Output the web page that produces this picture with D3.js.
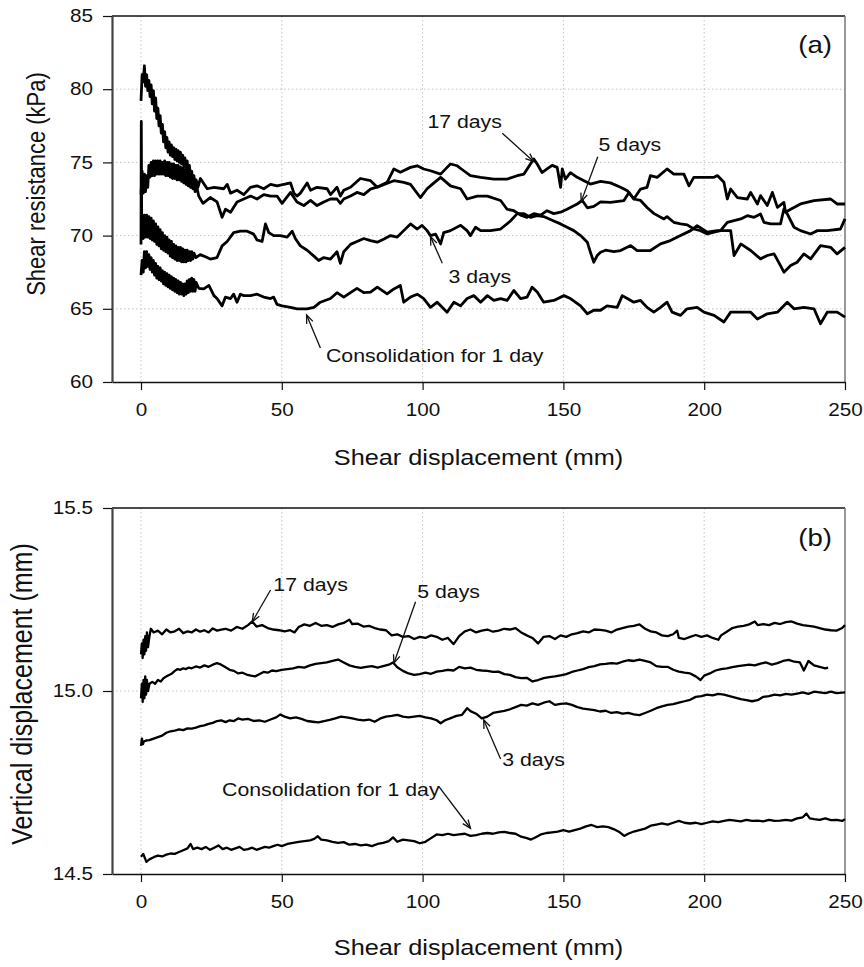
<!DOCTYPE html>
<html>
<head>
<meta charset="utf-8">
<script src="https://cdn.jsdelivr.net/npm/d3@7"></script>
<style>
  body { margin: 0; background: #fff; }
  text { font-family: "Liberation Sans", Arial, sans-serif; fill: #111; }
</style>
</head>
<body>
<svg width="864" height="967"></svg>
<script>
// ---- data ----
const xTicks = [0, 50, 100, 150, 200, 250];
const resistTicks = [60, 65, 70, 75, 80, 85];
const vertTicks = [14.5, 15.0, 15.5];

// (a) shear resistance, kPa vs shear displacement, mm
const resist17 = [[0,79.2],[0.4,81.0],[0.8,80.5],[1.2,81.6],[1.6,80.2],[2.0,81.0],[2.4,79.9],[2.8,80.6],[3.2,79.5],[3.6,80.3],[4.0,79.0],[4.4,79.9],[4.8,78.5],[5.2,79.4],[5.6,78.0],[6.0,78.7],[6.4,77.5],[6.8,78.2],[7.2,77.0],[7.6,77.6],[8.0,76.4],[8.4,77.1],[8.8,76.0],[9.2,76.7],[9.6,75.7],[10.0,76.4],[10.4,75.5],[10.8,76.2],[11.2,75.4],[11.6,76.0],[12.0,75.2],[12.4,75.9],[12.8,75.1],[13.2,75.8],[13.6,75.0],[14.0,75.7],[14.4,74.9],[14.8,75.5],[15.2,74.7],[15.6,75.3],[16.0,74.4],[16.4,75.1],[16.8,74.1],[17.2,74.8],[17.6,73.8],[18.0,74.4],[18.4,73.5],[18.8,74.1],[19.2,73.2],[19.6,73.8],[20.2,73.3],
  [21.1,73.9],[23.5,73.2],[26,73.3],[29.4,73.2],[30.6,73.5],[31.8,72.9],[34.1,73.1],[36.5,72.8],[38.9,73.3],[41.2,73.4],[43.6,73.2],[46,73.5],[48.3,73.4],[50.7,73.5],[53.1,73.6],[54.3,72.9],[55.4,72.7],[56.6,72.9],[59,73.6],[60.2,73.1],[62.5,73.3],[66.1,73.2],[67.3,72.8],[69.6,73.3],[70.8,72.7],[72,73.1],[74.4,73.3],[77.9,73.9],[81.5,73.75],[83.9,73.3],[87.4,73.64],[89.8,74.55],[92.1,74.32],[95.7,74.66],[98.1,74.77],[100.4,74.55],[102.8,74.43],[106.4,74.2],[108.7,74.66],[109.9,74.89],[112.3,74.77],[114.6,74.43],[117,74.09],[120.6,73.98],[125.3,73.86],[130,73.86],[133.6,74.09],[136,74.2],[138.3,74.89],[139.5,75.23],[140.7,74.89],[142.4,74.3],[144.2,74.55],[146,74.8],[147.8,74.66],[149,73.3],[149.6,74.55],[150.7,73.86],[152.5,74.3],[154.9,73.98],[157.3,73.75],[159.6,73.52],[163.2,73.7],[166.7,73.6],[170.3,73.3],[172.7,73.07],[175,72.5],[177.4,72.4],[179.8,71.9],[182.2,71.5],[185.7,71.14],[186.8,71.3],[189.2,70.91],[191.6,70.8],[194,70.73],[196.3,70.45],[198.7,70.34],[201.1,70.11],[203.5,70.23],[205.8,70.34],[208.2,70.91],[210.6,71.02],[213,71.14],[215.3,71.36],[217.7,71.25],[220,71.48],[221.2,70.91],[223.6,70.8],[227.1,70.8],[228.3,71.82],[229.5,71.48],[231.9,70.57],[234.2,70.34],[237.8,70.11],[240.2,70.34],[243.7,70.34],[248.4,70.45],[250,71.14]];

const resist5 = [[0,72.8],[0.4,74.4],[0.8,72.9],[1.2,74.2],[1.6,73.0],[2.0,74.1],[2.4,73.3],[2.8,74.8],[3.2,74.0],[3.6,75.0],[4.0,74.1],[4.4,75.1],[4.8,74.1],[5.2,75.1],[5.6,74.2],[6.0,75.1],[6.4,74.2],[6.8,75.1],[7.2,74.2],[7.6,75.0],[8.0,74.2],[8.4,75.1],[8.8,74.1],[9.2,75.0],[9.6,74.1],[10.0,75.0],[10.4,74.0],[10.8,74.9],[11.2,73.9],[11.6,74.9],[12.0,73.9],[12.4,74.8],[12.8,73.8],[13.2,74.8],[13.6,73.8],[14.0,74.7],[14.4,73.7],[14.8,74.6],[15.2,73.6],[15.6,74.5],[16.0,73.5],[16.4,74.4],[16.8,73.4],[17.2,74.3],[17.6,73.3],[18.0,74.1],[18.4,73.2],[18.8,73.9],[19.2,73.0],[19.6,73.5],[20.5,72.7],
  [22,72.2],[24.6,72.6],[27,72.3],[28.8,71.25],[30,71.8],[31.8,71.6],[34.1,72.3],[36.5,72.5],[38.9,72.7],[41.2,72.5],[43.6,72.8],[46,72.7],[48.3,72.7],[50.1,72.2],[53.1,72.95],[55.4,72.3],[57.8,72.05],[60.2,72.4],[62.5,72.05],[64.9,72.3],[67.3,72.5],[69.6,72.5],[70.8,72.2],[72,72.5],[74.4,72.7],[76.7,72.95],[79.1,72.8],[81.5,73.18],[85,73.4],[89.8,73.75],[93.3,73.64],[95.7,73.5],[99.2,72.6],[101.6,73.2],[103.4,73.5],[106.4,73.98],[109.9,73.4],[113.5,73.2],[115.8,72.5],[119.4,72.7],[123,72.7],[127.7,72.4],[130,71.8],[132.4,71.7],[134.8,71.4],[137.1,71.25],[139.5,71.5],[141.9,71.4],[144.2,71.7],[146.6,71.5],[149,71.6],[151.3,71.8],[154.9,72.16],[156.7,72.4],[158.5,71.9],[160.8,72.0],[163.2,72.3],[166.7,72.27],[171.5,72.39],[173.3,72.95],[175,72.5],[177.4,73.18],[179.7,73.3],[180.9,74.1],[183.3,73.98],[186.8,74.55],[189.2,74.2],[192.8,74.2],[194.6,73.4],[196.3,73.98],[199.9,73.98],[203.5,73.98],[204.7,74.1],[207,73.64],[208.2,72.5],[209.4,73.18],[211.8,72.6],[215.3,72.5],[216.5,72.95],[218.9,72.16],[220,72.73],[222.4,72.05],[224.2,72.95],[226,71.93],[228.3,72.27],[228.9,71.6],[230.7,71.8],[234.2,72.16],[239,72.39],[244.9,72.5],[247.2,72.16],[250,72.16]];

const resist3 = [[0,69.4],[0.1,77.8],[0.25,70.2],[0.4,71.3],[0.8,69.8],[1.2,71.4],[1.6,69.9],[2.0,71.4],[2.4,69.9],[2.8,71.3],[3.2,69.8],[3.6,71.2],[4.0,69.7],[4.4,71.0],[4.8,69.6],[5.2,70.8],[5.6,69.4],[6.0,70.6],[6.4,69.3],[6.8,70.4],[7.2,69.1],[7.6,70.2],[8.0,69.0],[8.4,70.0],[8.8,68.9],[9.2,69.9],[9.6,68.8],[10.0,69.7],[10.4,68.6],[10.8,69.6],[11.2,68.5],[11.6,69.4],[12.0,68.4],[12.4,69.3],[12.8,68.3],[13.2,69.2],[13.6,68.3],[14.0,69.2],[14.4,68.2],[14.8,69.1],[15.2,68.2],[15.6,69.0],[16.0,68.2],[16.4,69.0],[16.8,68.3],[17.2,68.9],[17.6,68.3],[18.0,68.9],[18.4,68.4],[18.8,68.8],[19.5,68.5],[21,68.7],
  [22.3,68.6],[24.6,68.4],[27,68.5],[28.8,69.3],[30.6,69.6],[32.9,70.2],[35.3,70.3],[37.7,70.3],[40,70.1],[41.2,69.7],[43,69.6],[44.2,70.8],[45.4,70.2],[47.1,70.0],[49.5,70.0],[51.9,69.9],[53.7,70.3],[54.8,69.8],[56.6,69.3],[59,69.0],[61.4,68.6],[63.1,68.3],[64.9,68.5],[67.3,68.4],[69.6,68.9],[70.8,68.1],[72,68.9],[74.4,69.4],[76.7,69.6],[79.1,69.8],[81.5,69.66],[83.9,69.55],[86.3,69.77],[88.6,70.0],[91,69.9],[93.3,70.34],[95.7,70.8],[98.1,70.45],[99.8,70.7],[101.6,70.34],[102.8,70.0],[104.6,70.1],[106.4,69.43],[107.5,70.2],[109.9,70.34],[113.5,70.7],[115.8,70.34],[117,70.0],[118.8,70.57],[120.6,70.34],[124.1,70.34],[127.7,70.45],[131.2,71.0],[133.6,71.5],[136,71.5],[138.3,71.25],[140.7,71.36],[143,71.3],[146.6,71.0],[149,70.8],[151.3,70.57],[153.7,70.34],[156.1,70.0],[158.5,69.55],[159.6,68.86],[160.8,68.18],[162,68.64],[163.2,68.86],[165,69.0],[167.9,68.9],[170.3,68.98],[173.9,69.32],[176.2,68.98],[180.9,68.98],[184.5,69.43],[188,69.66],[191.6,70.0],[195.2,70.34],[197.5,70.68],[201.1,70.23],[204.6,70.34],[209.4,70.34],[210.6,68.64],[213,69.43],[216.5,68.98],[220,68.41],[222.4,68.64],[224.8,68.75],[227.1,67.95],[228.3,67.5],[230.7,67.95],[233,68.18],[235.4,68.75],[237.8,68.41],[241.3,69.32],[244.9,69.2],[247.2,68.75],[250,69.2]];

const resist1 = [[0,67.3],[0.4,68.3],[0.8,67.5],[1.2,68.9],[1.6,67.8],[2.0,68.9],[2.4,67.9],[2.8,68.7],[3.2,67.7],[3.6,68.5],[4.0,67.5],[4.4,68.3],[4.8,67.3],[5.2,68.1],[5.6,67.1],[6.0,67.9],[6.4,67.0],[6.8,67.8],[7.2,66.9],[7.6,67.6],[8.0,66.7],[8.4,67.5],[8.8,66.6],[9.2,67.4],[9.6,66.5],[10.0,67.3],[10.4,66.4],[10.8,67.2],[11.2,66.3],[11.6,67.1],[12.0,66.2],[12.4,67.0],[12.8,66.1],[13.2,66.9],[13.6,66.0],[14.0,66.8],[14.4,66.0],[14.8,66.7],[15.2,65.9],[15.6,66.7],[16.0,66.0],[16.4,66.9],[16.8,66.1],[17.2,67.0],[17.6,66.2],[18.0,67.1],[18.4,66.2],[18.8,67.0],[19.2,66.2],[19.6,66.8],[20.5,66.4],
  [22.3,66.36],[24.1,66.6],[25.9,65.9],[27,65.7],[28.8,65.2],[30,65.8],[31.8,65.7],[32.9,66.0],[34.1,65.45],[35.3,66.0],[36.5,65.9],[38.9,65.9],[41.2,66.0],[43.6,65.8],[46,65.7],[47.1,65.8],[48.3,65.3],[50.1,65.2],[53.1,65.1],[55.4,65.0],[59,65.0],[61.4,65.1],[63.7,65.45],[67.3,65.7],[69.6,66.1],[72,65.8],[74.4,66.1],[76.7,66.4],[79.1,66.1],[81.5,66.14],[83.9,66.48],[87.4,66.02],[89.8,66.36],[92.1,66.59],[93.3,65.45],[95.7,65.8],[98.1,66.0],[100.4,65.7],[102.8,65.1],[105.2,65.45],[108.7,64.77],[111.1,65.45],[113.5,65.2],[115.8,65.7],[118.2,65.9],[120.6,65.45],[123,65.9],[125.3,65.57],[127.7,65.7],[130,65.57],[132.4,66.25],[134.8,65.7],[137.1,65.8],[138.9,66.48],[140.7,66.14],[143,65.45],[146.6,65.57],[150.2,65.9],[152.5,65.7],[156.1,65.2],[158.5,64.66],[160.8,64.9],[163.2,64.9],[165.5,65.2],[169.1,65.1],[170.9,65.9],[172.7,65.7],[175,65.45],[177.4,65.57],[179.7,65.1],[182.1,64.77],[184.5,65.1],[186.8,65.45],[188.6,64.77],[191.6,64.55],[193.9,65.0],[197.5,65.1],[199.9,64.77],[203.5,64.55],[207,64.1],[209.4,64.77],[213,64.77],[216.5,64.77],[218.9,64.3],[222.4,64.66],[226,64.77],[229.5,65.45],[231.9,65.0],[235.4,65.1],[239,65.0],[241.3,63.98],[243.7,64.77],[247.2,64.77],[250,64.43]];

// (b) vertical displacement, mm vs shear displacement, mm
const vert17 = [[0,15.10],[0.3,15.13],[0.6,15.09],[0.9,15.14],[1.2,15.10],[1.5,15.15],[1.8,15.11],[2.1,15.16],[2.5,15.12],[3,15.15],[3.5,15.17],[4.5,15.16],[6,15.165],[7.5,15.155],[9,15.168],[10.5,15.16],[12,15.163],[13.5,15.17],[15,15.158],[16.5,15.163],[18,15.16],[19.5,15.168],[21,15.162],[22.5,15.166],[24,15.16],[25.5,15.171],[27,15.165],[28.5,15.168],[30,15.17],[32,15.165],[34,15.175],[36,15.17],[38,15.18],[39.5,15.19],[41,15.176],[43,15.18],[45,15.172],[47,15.168],[49,15.166],[51,15.163],[53,15.166],[54.5,15.16],[56,15.175],[58,15.182],[60,15.178],[62,15.186],[64,15.178],[66,15.18],[68,15.175],[70,15.182],[72,15.186],[74,15.195],[75,15.183],[77,15.184],[79,15.176],[81,15.178],[83,15.172],[85,15.168],[87,15.166],[89,15.152],[91,15.155],[93,15.148],[95,15.15],[97,15.142],[99,15.148],[101,15.145],[103,15.152],[105,15.148],[107,15.14],[109,15.145],[111,15.128],[113,15.15],[115,15.163],[117,15.168],[119,15.16],[121,15.165],[123,15.168],[125,15.162],[127,15.165],[129,15.17],[131,15.168],[133,15.172],[135,15.16],[137,15.152],[139,15.145],[141,15.13],[143,15.148],[145,15.15],[147,15.142],[149,15.152],[151,15.148],[153,15.155],[155,15.158],[157,15.163],[159,15.16],[161,15.168],[163,15.167],[165,15.165],[167,15.16],[169,15.168],[171,15.172],[173,15.176],[175,15.178],[177,15.182],[179,15.17],[181,15.163],[183,15.16],[185,15.152],[187,15.15],[189,15.155],[190.4,15.165],[191,15.145],[193,15.142],[195,15.148],[197,15.153],[199,15.148],[201,15.152],[203,15.145],[205,15.14],[206,15.152],[208,15.162],[210,15.172],[212,15.176],[214,15.178],[216,15.182],[218,15.19],[219,15.18],[221,15.183],[223,15.18],[225,15.186],[227,15.183],[229,15.188],[231,15.19],[233,15.184],[235,15.18],[237,15.178],[239,15.176],[241,15.172],[243,15.168],[245,15.166],[247,15.165],[249,15.172],[250,15.18]];

const vert5 = [[0,14.98],[0.3,15.02],[0.6,14.97],[0.9,15.03],[1.2,14.98],[1.5,15.04],[1.8,14.99],[2.1,15.03],[2.5,15.0],[3,15.02],[4,15.025],[5,15.02],[6,15.03],[7,15.026],[8,15.035],[9,15.04],[10,15.044],[11,15.048],[12,15.055],[13,15.06],[14,15.058],[15,15.062],[16,15.06],[17,15.064],[18,15.062],[19.5,15.067],[21,15.064],[22.5,15.07],[24,15.066],[25.5,15.072],[27,15.076],[28.5,15.072],[30,15.065],[31.5,15.058],[33,15.055],[34.5,15.048],[36,15.05],[37.5,15.045],[39,15.042],[40.5,15.04],[42,15.046],[43.5,15.052],[45,15.05],[46.5,15.056],[48,15.054],[50,15.058],[52,15.06],[54,15.062],[56,15.066],[58,15.064],[60,15.07],[62,15.074],[64,15.076],[66,15.078],[68,15.082],[70,15.086],[72,15.078],[74,15.07],[76,15.066],[78,15.063],[80,15.066],[82,15.068],[84,15.064],[86,15.068],[88,15.072],[89.5,15.078],[91,15.065],[93,15.055],[95,15.048],[97,15.044],[99,15.046],[101,15.05],[103,15.047],[105,15.053],[107,15.055],[109,15.058],[111,15.056],[113,15.066],[115,15.062],[117,15.064],[119,15.058],[121,15.056],[123,15.055],[125,15.052],[127,15.053],[129,15.046],[131,15.044],[133,15.038],[135,15.035],[137,15.036],[139,15.026],[141,15.03],[143,15.035],[145,15.038],[147,15.04],[149,15.043],[151,15.046],[153,15.052],[155,15.056],[157,15.06],[159,15.065],[161,15.068],[163,15.073],[165,15.074],[167,15.076],[169,15.075],[171,15.08],[173,15.084],[175,15.082],[177,15.086],[179,15.082],[181,15.078],[183,15.068],[185,15.066],[187,15.066],[189,15.058],[191,15.053],[193,15.05],[195,15.048],[197,15.04],[198.7,15.03],[200,15.042],[202,15.048],[204,15.056],[206,15.06],[208,15.062],[210,15.065],[212,15.068],[214,15.07],[216,15.072],[218,15.07],[220,15.075],[222,15.078],[224,15.072],[226,15.076],[228,15.082],[230,15.085],[232,15.08],[234,15.078],[235.4,15.056],[237,15.082],[239,15.07],[241,15.066],[243,15.062],[244,15.064]];

const vert3 = [[0,14.85],[0.3,14.87],[0.7,14.855],[1,14.862],[2,14.865],[3,14.866],[4.5,14.87],[6,14.874],[7.5,14.878],[9,14.886],[10.5,14.89],[12,14.892],[13.5,14.895],[15,14.893],[16.5,14.898],[18,14.897],[19.5,14.9],[21,14.904],[22.5,14.906],[24,14.91],[25.5,14.913],[27,14.918],[28.5,14.92],[30,14.915],[31.5,14.92],[33,14.918],[34.5,14.925],[36,14.922],[38,14.924],[40,14.918],[42,14.92],[44,14.916],[46,14.922],[48,14.928],[49.5,14.936],[51,14.93],[53,14.925],[55,14.928],[57,14.924],[59,14.918],[61,14.916],[63,14.914],[65,14.918],[67,14.921],[69,14.925],[71,14.93],[73,14.928],[75,14.925],[77,14.922],[79,14.92],[81,14.922],[83,14.916],[85,14.925],[87,14.93],[89,14.932],[91,14.935],[93,14.93],[95,14.928],[97,14.93],[99,14.932],[101,14.928],[103,14.925],[105,14.92],[106.4,14.912],[108,14.92],[110,14.926],[112,14.932],[114,14.935],[115.8,14.953],[117,14.945],[119,14.938],[121,14.925],[123,14.93],[125,14.94],[127,14.943],[129,14.946],[131,14.95],[133,14.956],[135,14.962],[137,14.96],[139,14.966],[141,14.962],[143,14.968],[145,14.972],[147,14.962],[149,14.965],[151,14.966],[153,14.962],[155,14.956],[157,14.952],[159,14.95],[161,14.948],[163,14.944],[165,14.946],[167,14.94],[169,14.942],[171,14.938],[173,14.94],[175,14.936],[177,14.934],[179,14.94],[181,14.946],[183,14.953],[185,14.958],[187,14.962],[189,14.964],[191,14.968],[193,14.972],[195,14.976],[197,14.984],[199,14.986],[201,14.99],[203,14.988],[205,14.992],[207,14.99],[209,14.986],[211,14.982],[213,14.978],[215,14.975],[217,14.972],[219,14.975],[221,14.984],[223,14.986],[225,14.99],[227,14.988],[229,14.992],[231,14.99],[233,14.993],[235,14.996],[237,14.992],[239,14.998],[241,14.996],[243,14.994],[245,14.998],[247,14.994],[250,14.996]];

const vert1 = [[0,14.547],[0.8,14.555],[1.9,14.533],[3,14.54],[4.5,14.546],[6,14.55],[7.5,14.548],[9,14.553],[10.5,14.556],[12,14.555],[13.5,14.56],[15,14.565],[16.5,14.57],[17.6,14.582],[18.5,14.568],[20,14.572],[21.5,14.568],[23,14.574],[24.5,14.566],[26,14.572],[27.5,14.578],[29,14.568],[30.5,14.572],[32,14.566],[33.5,14.57],[35,14.574],[36.5,14.566],[38,14.568],[39.5,14.572],[41,14.566],[42.5,14.57],[44,14.574],[45.5,14.572],[47,14.576],[48.5,14.58],[50,14.576],[52,14.582],[54,14.585],[56,14.588],[58,14.59],[60,14.592],[61.5,14.596],[62.8,14.603],[64,14.594],[66,14.592],[68,14.588],[70,14.585],[72,14.587],[74,14.58],[76,14.582],[78,14.578],[80,14.58],[82,14.576],[84,14.582],[86,14.585],[88,14.59],[89.5,14.6],[91,14.588],[93,14.594],[95,14.592],[97,14.59],[99,14.584],[101,14.588],[103,14.598],[105,14.608],[107,14.606],[109,14.61],[111,14.606],[113,14.608],[115,14.61],[117,14.604],[119,14.606],[121,14.61],[123,14.612],[125,14.61],[127,14.614],[129,14.615],[131,14.612],[133,14.61],[135,14.602],[137,14.598],[138.5,14.594],[140,14.6],[142,14.608],[144,14.612],[146,14.614],[148,14.616],[150,14.62],[152,14.616],[154,14.62],[156,14.624],[158,14.63],[160,14.634],[162,14.628],[164,14.63],[166,14.628],[168,14.622],[170,14.614],[171.6,14.604],[173,14.61],[175,14.616],[177,14.62],[179,14.624],[181,14.632],[183,14.635],[185,14.638],[187,14.635],[189,14.64],[191,14.645],[193,14.64],[195,14.638],[197,14.64],[199,14.636],[201,14.64],[203,14.644],[205,14.642],[207,14.645],[209,14.648],[211,14.646],[213,14.644],[215,14.648],[217,14.645],[219,14.646],[221,14.644],[223,14.648],[225,14.645],[227,14.646],[229,14.648],[231,14.646],[233,14.652],[235,14.655],[236.3,14.665],[237.5,14.652],[239,14.65],[241,14.648],[243,14.652],[245,14.647],[247,14.648],[249,14.645],[250,14.65]];

// annotation text, label position and arrow (tail -> tip) in data units
const resistNotes = [
  { text: "17 days", at: [101.7, 77.78], tail: [128.3, 76.99], tip: [139.5, 75.05] },
  { text: "5 days", at: [162.5, 76.19], tail: [162.2, 75.39], tip: [156.3, 72.32] },
  { text: "3 days", at: [109.2, 67.19], tail: [107.0, 68.11], tip: [102.8, 69.93] },
  { text: "Consolidation for 1 day", at: [65.7, 61.84], tail: [63.7, 62.32], tip: [58.8, 64.58] }
];
const vertNotes = [
  { text: "17 days", at: [47.0, 15.29], tail: [46.0, 15.276], tip: [39.5, 15.189] },
  { text: "5 days", at: [98.1, 15.271], tail: [97.5, 15.244], tip: [89.8, 15.076] },
  { text: "3 days", at: [128.3, 14.813], tail: [127.7, 14.814], tip: [121.7, 14.921] },
  { text: "Consolidation for 1 day", at: [28.8, 14.73], tail: [105.8, 14.739], tip: [117.0, 14.625] }
];

// ---- drawing ----
const stretch = 1.15;   // the original figure is widened a little
const svg = d3.select("svg");

let xScale = d3.scaleLinear().domain([-10.3, 250]).range([112, 845]);

function stretchedText(g, str, px, py, size, anchor) {
  return g.append("text")
    .attr("transform", `translate(${px},${py}) scale(${stretch},1)`)
    .attr("text-anchor", anchor)
    .attr("dominant-baseline", "central")
    .style("font-size", size + "px")
    .text(str);
}

function drawPanel(cfg) {
  let g = svg.append("g");
  let yScale = d3.scaleLinear().domain(cfg.yDomain).range(cfg.yRange);
  let [top, bottom] = [cfg.yRange[1], cfg.yRange[0]];
  let [left, right] = xScale.range();

  // dotted grid
  g.selectAll("line.vgrid")
    .data(xTicks.filter(d => d < 250))
    .join("line")
    .attr("x1", d => xScale(d)).attr("x2", d => xScale(d))
    .attr("y1", top).attr("y2", bottom)
    .attr("stroke", "#c4c4c4").attr("stroke-dasharray", "1.5,2.5");
  g.selectAll("line.hgrid")
    .data(cfg.yTicks.slice(1, -1))
    .join("line")
    .attr("x1", left).attr("x2", right)
    .attr("y1", d => yScale(d)).attr("y2", d => yScale(d))
    .attr("stroke", "#c4c4c4").attr("stroke-dasharray", "1.5,2.5");

  // frame: top and right
  g.append("line").attr("x1", left).attr("x2", right).attr("y1", top).attr("y2", top)
    .attr("stroke", "#111").attr("stroke-width", 1.5);
  g.append("line").attr("x1", right).attr("x2", right).attr("y1", top).attr("y2", bottom)
    .attr("stroke", "#777").attr("stroke-width", 1.5);

  // curves
  let line = d3.line().x(d => xScale(d[0])).y(d => yScale(d[1]));
  g.selectAll("path.curve")
    .data(cfg.series)
    .join("path")
    .attr("class", "curve")
    .attr("d", d => line(d))
    .attr("fill", "none")
    .attr("stroke", "#000")
    .attr("stroke-width", cfg.lineWidth)
    .attr("stroke-linejoin", "round");

  // axes
  let xAxis = g.append("g")
    .attr("transform", `translate(0,${bottom})`)
    .call(d3.axisBottom(xScale).tickValues(xTicks).tickSize(8).tickSizeOuter(0).tickPadding(13));
  xAxis.select(".domain").attr("stroke", "#111").attr("stroke-width", 1.5);
  xAxis.selectAll(".tick line").attr("stroke", "#111").attr("stroke-width", 1.2);
  xAxis.selectAll("text")
    .attr("transform", `scale(${stretch},1)`)
    .style("font-size", "18px").attr("fill", "#111");

  let yAxis = g.append("g")
    .attr("transform", `translate(${left},0)`)
    .call(d3.axisLeft(yScale).tickValues(cfg.yTicks).tickSize(9).tickSizeOuter(0)
      .tickPadding(7.5).tickFormat(d3.format(cfg.fmt)));
  yAxis.select(".domain").attr("stroke", "#444").attr("stroke-width", 2.2);
  yAxis.selectAll(".tick line").attr("stroke", "#111").attr("stroke-width", 1.2);
  yAxis.selectAll("text")
    .attr("transform", `scale(${stretch},1)`)
    .style("font-size", "18px").attr("fill", "#111");

  // axis titles
  stretchedText(g, "Shear displacement (mm)", (left + right) / 2, cfg.xTitleY, 22, "middle");
  g.append("text")
    .attr("transform", `translate(${cfg.yTitleX},${cfg.yTitleY}) scale(${stretch},1) rotate(-90)`)
    .attr("text-anchor", "middle")
    .attr("dominant-baseline", "central")
    .style("font-size", cfg.yTitleSize + "px")
    .text(cfg.yTitle);

  // panel letter
  stretchedText(g, cfg.letter, right - 13, top + cfg.letterDy, 24, "end");

  // annotations with open arrow heads
  cfg.notes.forEach(n => {
    stretchedText(g, n.text, xScale(n.at[0]), yScale(n.at[1]), 18.5, "start");
    let x0 = xScale(n.tail[0]), y0 = yScale(n.tail[1]);
    let x1 = xScale(n.tip[0]), y1 = yScale(n.tip[1]);
    let ang = Math.atan2(y1 - y0, x1 - x0);
    let head = 9, spread = 0.38;
    let wing = s => [x1 - head * Math.cos(ang + s), y1 - head * Math.sin(ang + s)];
    g.append("line").attr("x1", x0).attr("y1", y0).attr("x2", x1).attr("y2", y1)
      .attr("stroke", "#111").attr("stroke-width", 1.3);
    g.append("path")
      .attr("d", d3.line()([wing(spread), [x1, y1], wing(-spread)]))
      .attr("fill", "none").attr("stroke", "#111").attr("stroke-width", 1.3);
  });
}

drawPanel({
  yDomain: [60, 85], yRange: [382, 16], yTicks: resistTicks, fmt: "d",
  series: [resist17, resist5, resist3, resist1], lineWidth: 2.8,
  notes: resistNotes, letter: "(a)", letterDy: 29,
  xTitleY: 458, yTitle: "Shear resistance (kPa)", yTitleSize: 22, yTitleX: 36, yTitleY: 184
});

drawPanel({
  yDomain: [14.5, 15.5], yRange: [874, 508], yTicks: vertTicks, fmt: ".1f",
  series: [vert17, vert5, vert3, vert1], lineWidth: 2.3,
  notes: vertNotes, letter: "(b)", letterDy: 30,
  xTitleY: 948, yTitle: "Vertical displacement (mm)", yTitleSize: 25, yTitleX: 22, yTitleY: 694
});
</script>
</body>
</html>
